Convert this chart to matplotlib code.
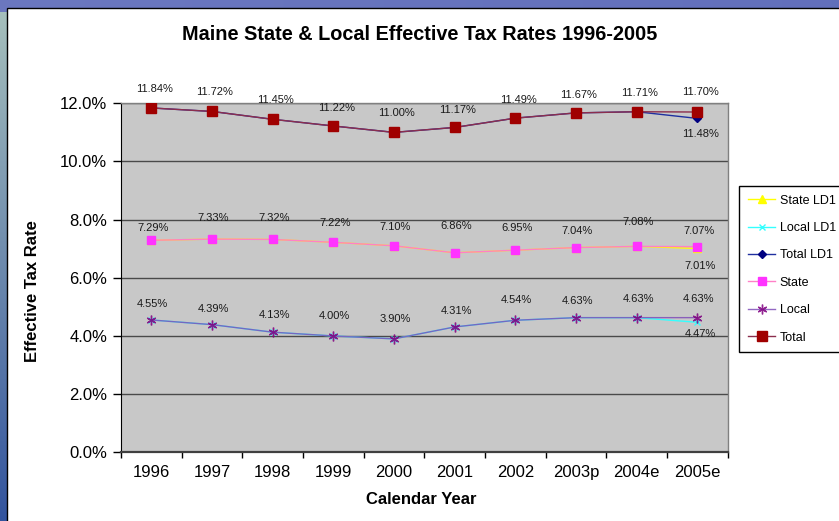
import numpy as np
import matplotlib
matplotlib.use("Agg")
import matplotlib.pyplot as plt
from matplotlib.patches import Rectangle
from matplotlib.ticker import FuncFormatter, FixedLocator

# ---- data (effective tax rate, %) ----
years = ["1996", "1997", "1998", "1999", "2000", "2001", "2002", "2003p", "2004e", "2005e"]

total = [11.84, 11.72, 11.45, 11.22, 11.00, 11.17, 11.49, 11.67, 11.71, 11.70]
total_ld1 = [11.84, 11.72, 11.45, 11.22, 11.00, 11.17, 11.49, 11.67, 11.71, 11.48]
state = [7.29, 7.33, 7.32, 7.22, 7.10, 6.86, 6.95, 7.04, 7.08, 7.07]
state_ld1 = [7.29, 7.33, 7.32, 7.22, 7.10, 6.86, 6.95, 7.04, 7.08, 7.01]
local = [4.55, 4.39, 4.13, 4.00, 3.90, 4.31, 4.54, 4.63, 4.63, 4.63]
local_ld1 = [4.55, 4.39, 4.13, 4.00, 3.90, 4.31, 4.54, 4.63, 4.63, 4.47]

FONT = ["Liberation Sans", "DejaVu Sans"]
plt.rcParams["font.family"] = FONT

W, H = 839, 521
fig = plt.figure(figsize=(W / 100, H / 100), dpi=100)

# slide backdrop (blue strip on the top and left)
bg = fig.add_axes([0, 0, 1, 1], zorder=-10)
bg.set_axis_off()
grad = np.zeros((H, W, 3))
t = np.linspace(0, 1, H)[:, None]
top_c = np.array([0.66, 0.76, 0.74])
bot_c = np.array([0.20, 0.33, 0.62])
grad[:] = (top_c * (1 - t) + bot_c * t)[:, None, :].reshape(H, 1, 3)
band = np.linspace(0, 1, W)[None, :, None]
grad[:12] = np.array([0.42, 0.47, 0.75]) * (1 - 0.3 * band[0]) + np.array([0.30, 0.36, 0.70]) * 0.3 * band[0]
bg.imshow(grad, extent=[0, W, H, 0], aspect="auto")
bg.set_xlim(0, W)
bg.set_ylim(H, 0)
bg.add_patch(Rectangle((7, 8), W, H, facecolor="white", edgecolor="black", lw=1.0))

x = np.arange(len(years))
ax = fig.add_axes([121 / W, 1 - 452.3 / H, (727.7 - 121) / W, (452.3 - 103.3) / H])
ax.set_facecolor("#C8C8C8")
ax.set_xlim(-0.5, len(years) - 0.5)
ax.set_ylim(0, 12)

ax.yaxis.set_major_locator(FixedLocator(np.arange(0, 12.01, 2)))
ax.yaxis.set_major_formatter(FuncFormatter(lambda v, p: f"{v:.1f}%"))
ax.grid(axis="y", color="#4a4a4a", lw=1.0)
ax.set_axisbelow(True)

ax.set_xticks(x)
ax.set_xticklabels(years)
ax.set_xticks(np.arange(-0.5, len(years), 1.0), minor=True)
ax.tick_params(axis="x", which="major", length=0, labelsize=12, pad=9)
ax.tick_params(axis="x", which="minor", length=4, direction="out", width=1.0)
ax.tick_params(axis="y", length=6, direction="out", width=1.0, labelsize=12, pad=4)

for side in ("top", "right"):
    ax.spines[side].set_color("#808080")
    ax.spines[side].set_linewidth(1.0)
ax.spines["left"].set_color("black")
ax.spines["bottom"].set_color("#404040")
ax.spines["bottom"].set_linewidth(1.6)

# series (LD1 variants drawn beneath their base counterparts)
ax.plot(x, state_ld1, color="#FFFF00", lw=1.0, marker="^", ms=6, mfc="#FFFF00",
        mec="#FFFF00", label="State LD1", zorder=3)
ax.plot(x, local_ld1, color="#33FFFF", lw=1.0, marker="x", ms=5, mec="#33FFFF",
        label="Local LD1", zorder=3)
ax.plot(x, total_ld1, color="#2030A0", lw=1.0, marker="D", ms=4, mfc="#000080",
        mec="#000080", label="Total LD1", zorder=3)
ax.plot(x, state, color="#FF44FF", lw=1.0, marker="s", ms=6, mfc="#FF33FF",
        mec="#FF33FF", label="State", zorder=4)
ax.plot(x, local, color="#800080", lw=1.0, marker=(6, 2, 0), ms=7, mec="#800080",
        mew=1.0, label="Local", zorder=4)
ax.plot(x, total, color="#800000", lw=1.0, marker="s", ms=6.5, mfc="#A00000",
        mec="#A00000", label="Total", zorder=4)

# soften the shared segments where two series overlap
ax.lines[3].set_color((1.0, 0.50, 0.78))
ax.lines[4].set_color((0.50, 0.30, 0.72))
ax.lines[4].set_alpha(0.85)
ax.lines[5].set_color((0.55, 0.18, 0.30))

# value labels (vertical offsets of the label centre, in points)
lab_kw = dict(ha="center", va="center", fontsize=8, color="#1a1a1a",
              annotation_clip=False, textcoords="offset points")
total_off = [13.5, 13.7, 13.7, 13.0, 13.7, 12.2, 13.0, 13.0, 13.7, 14.4]
state_off = [8.6, 15.1, 15.1, 13.7, 13.7, 19.4, 15.8, 12.2, 17.3, 11.5]
local_off = [11.5, 11.5, 12.2, 14.4, 14.4, 11.5, 14.4, 12.2, 13.7, 13.7]
for i in range(len(years)):
    ax.annotate(f"{total[i]:.2f}%", (x[i], total[i]), xytext=(2, total_off[i]), **lab_kw)
    ax.annotate(f"{state[i]:.2f}%", (x[i], state[i]), xytext=(1, state_off[i]), **lab_kw)
    ax.annotate(f"{local[i]:.2f}%", (x[i], local[i]), xytext=(1, local_off[i]), **lab_kw)
last = len(years) - 1
for vals, off in ((total_ld1, -11.5), (state_ld1, -13.0), (local_ld1, -8.6)):
    ax.annotate(f"{vals[last]:.2f}%", (x[last], vals[last]), xytext=(2, off), **lab_kw)

fig.text(420 / W, 1 - 34 / H, "Maine State & Local Effective Tax Rates 1996-2005",
         ha="center", va="center", fontsize=14.3, fontweight="bold")
fig.text(421 / W, 1 - 500 / H, "Calendar Year", ha="center", va="center",
         fontsize=12, fontweight="bold")
fig.text(33 / W, 1 - 291 / H, "Effective Tax Rate", ha="center", va="center",
         rotation=90, fontsize=12, fontweight="bold")

leg = fig.legend(loc="upper left", bbox_to_anchor=(739 / W, 1 - 186 / H),
                 frameon=True, fancybox=False, edgecolor="black", framealpha=1,
                 fontsize=9, handlelength=2.2, labelspacing=1.23,
                 borderpad=0.7, handletextpad=0.35, borderaxespad=0)
leg.get_frame().set_linewidth(1.0)

fig.savefig("out.png", dpi=100)
